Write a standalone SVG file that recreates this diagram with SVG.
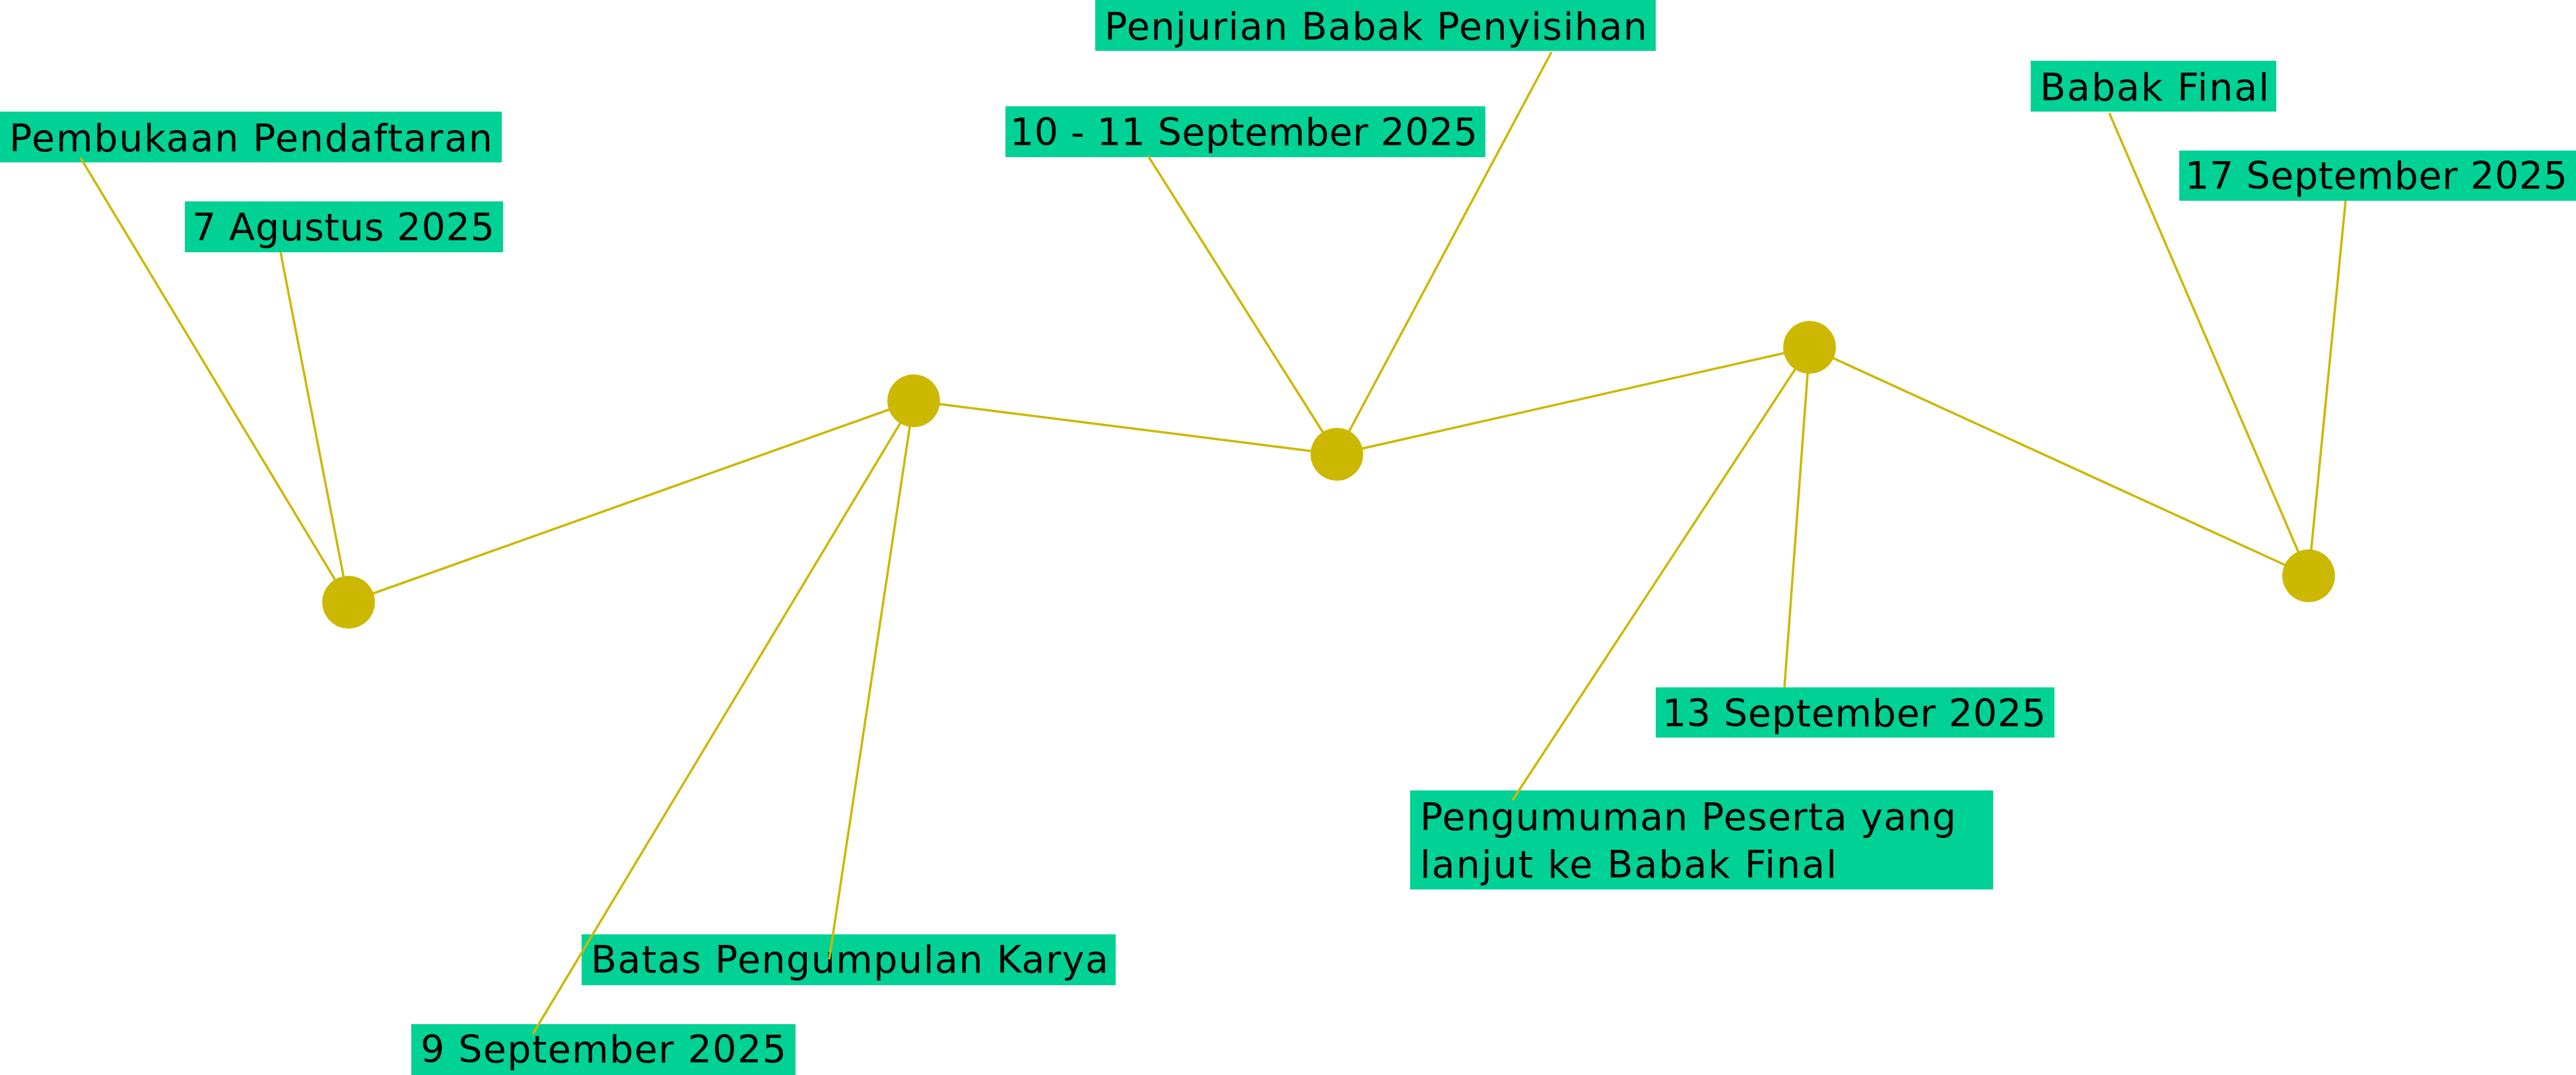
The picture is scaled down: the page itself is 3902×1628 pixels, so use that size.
<svg xmlns="http://www.w3.org/2000/svg" width="3902" height="1628" viewBox="0 0 3902 1628">
<style>
.bg{fill:#ffffff}
.lbl rect{fill:#00d195}
.lbl text{font-family:"DejaVu Sans","Liberation Sans",sans-serif;font-size:57px;fill:#000000}
.conn line{stroke:#ccb800;stroke-width:3.5;fill:none}
.node circle{fill:#ccb800}
</style>
<rect class="bg" x="0" y="0" width="3902" height="1628"/>

<g id="labels-under">
<g id="label-pembukaan" class="lbl"><rect x="0" y="169" width="760" height="77"/><text x="14" y="229" textLength="732" lengthAdjust="spacing">Pembukaan Pendaftaran</text></g>
<g id="label-7agustus" class="lbl"><rect x="280" y="305" width="482" height="77"/><text x="291" y="364" textLength="458" lengthAdjust="spacing">7 Agustus 2025</text></g>
<g id="label-batas" class="lbl"><rect x="881" y="1415" width="809" height="77"/><text x="895" y="1473" textLength="784" lengthAdjust="spacing">Batas Pengumpulan Karya</text></g>
<g id="label-9sept" class="lbl"><rect x="623" y="1551" width="582" height="77"/><text x="637" y="1609" textLength="554" lengthAdjust="spacing">9 September 2025</text></g>
<g id="label-penjurian" class="lbl"><rect x="1659" y="0" width="849" height="77"/><text x="1673" y="60" textLength="822" lengthAdjust="spacing">Penjurian Babak Penyisihan</text></g>
<g id="label-10-11sept" class="lbl"><rect x="1523" y="161" width="727" height="77"/><text x="1530" y="220" textLength="708" lengthAdjust="spacing">10 - 11 September 2025</text></g>
<g id="label-babakfinal" class="lbl"><rect x="3076" y="92" width="372" height="77"/><text x="3090" y="152" textLength="347" lengthAdjust="spacing">Babak Final</text></g>
<g id="label-17sept" class="lbl"><rect x="3301" y="228" width="601" height="76"/><text x="3310" y="286" textLength="579" lengthAdjust="spacing">17 September 2025</text></g>
<g id="label-13sept" class="lbl"><rect x="2508" y="1041" width="604" height="76"/><text x="2518" y="1100" textLength="581" lengthAdjust="spacing">13 September 2025</text></g>
<g id="label-pengumuman" class="lbl"><rect x="2136" y="1197" width="883" height="150"/><text x="2151" y="1257" textLength="812" lengthAdjust="spacing">Pengumuman Peserta yang</text><text x="2151" y="1329" textLength="631" lengthAdjust="spacing">lanjut ke Babak Final</text></g>
</g>

<g id="connectors" class="conn">
<line x1="528" y1="912" x2="1384" y2="607"/>
<line x1="1384" y1="607" x2="2025" y2="688"/>
<line x1="2025" y1="688" x2="2741" y2="526"/>
<line x1="2741" y1="526" x2="3497" y2="872"/>
<line x1="528" y1="912" x2="122" y2="239"/>
<line x1="528" y1="912" x2="425" y2="382"/>
<line x1="1384" y1="607" x2="1256" y2="1453"/>
<line x1="1384" y1="607" x2="807" y2="1566"/>
<line x1="2025" y1="688" x2="2350" y2="79"/>
<line x1="2025" y1="688" x2="1739" y2="236"/>
<line x1="2741" y1="526" x2="2703" y2="1041"/>
<line x1="2741" y1="526" x2="2291" y2="1212"/>
<line x1="3497" y1="872" x2="3195" y2="171"/>
<line x1="3497" y1="872" x2="3553" y2="304"/>
</g>

<g id="node-a" class="node"><circle cx="528" cy="912" r="40"/></g>
<g id="node-b" class="node"><circle cx="1384" cy="607" r="40"/></g>
<g id="node-c" class="node"><circle cx="2025" cy="688" r="40"/></g>
<g id="node-d" class="node"><circle cx="2741" cy="526" r="40"/></g>
<g id="node-e" class="node"><circle cx="3497" cy="872" r="40"/></g>
</svg>
